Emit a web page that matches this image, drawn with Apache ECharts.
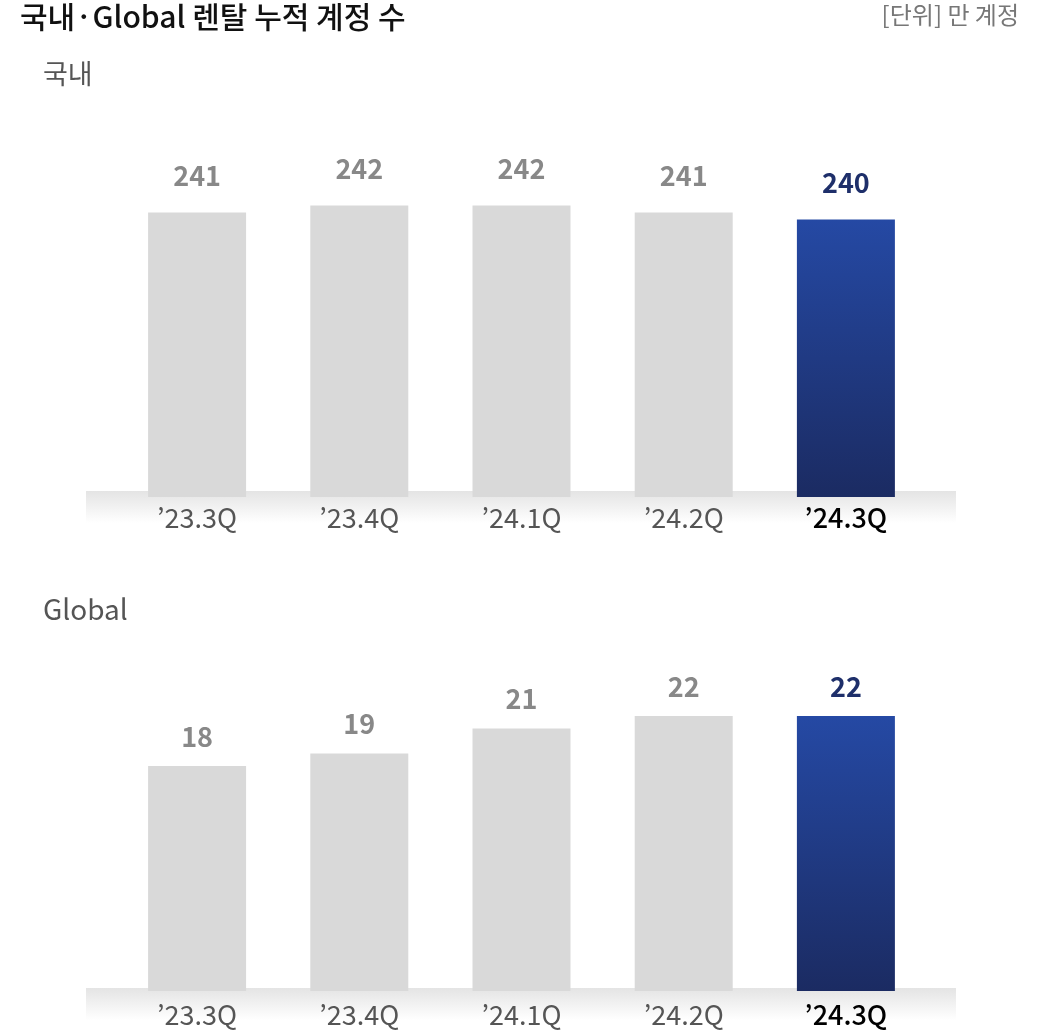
<!DOCTYPE html>
<html>
<head>
<meta charset="utf-8">
<script src="https://cdn.jsdelivr.net/npm/echarts@6/dist/echarts.min.js"></script>
<style>
  html, body { margin: 0; padding: 0; background: #fff; }
  #main { width: 1045px; height: 1035px; }
</style>
</head>
<body>
<div id="main"></div>
<script>
var quarters = ['’23.3Q', '’23.4Q', '’24.1Q', '’24.2Q', '’24.3Q'];
var domestic = [241, 242, 242, 241, 240];
var global = [18, 19, 21, 22, 22];

var FONT = '"Noto Sans CJK KR", "Noto Sans", sans-serif';
var last = quarters.length - 1;

// current quarter gets the blue gradient, others plain gray
function barData(values) {
  return values.map(function (v, i) {
    if (i !== last) return v;
    return {
      value: v,
      itemStyle: {
        color: new echarts.graphic.LinearGradient(0, 0, 0, 1, [
          {offset: 0, color: '#2549a4'},
          {offset: 1, color: '#1b2b62'}
        ])
      },
      label: {color: '#1e2f6a'}
    };
  });
}

function band(y) {
  return {
    type: 'rect', z: 0, silent: true,
    shape: {x: 86, y: y, width: 870, height: 32},
    style: {
      fill: new echarts.graphic.LinearGradient(0, 0, 0, 1, [
        {offset: 0, color: '#e4e4e4'},
        {offset: 1, color: '#ffffff'}
      ])
    }
  };
}

function xAxis(gridIndex, margin) {
  return {
    type: 'category',
    gridIndex: gridIndex,
    data: quarters,
    axisLine: {show: false},
    axisTick: {show: false},
    axisLabel: {
      interval: 0,
      fontFamily: FONT, fontSize: 27, color: '#555', margin: margin,
      formatter: function (v, i) { return i === last ? '{cur|' + v + '}' : v; },
      rich: {cur: {fontFamily: FONT, fontSize: 27, color: '#000', fontWeight: 500}}
    }
  };
}

function bars(idx, values, dist) {
  return {
    type: 'bar',
    xAxisIndex: idx, yAxisIndex: idx,
    data: barData(values),
    barWidth: 98,
    itemStyle: {color: '#d9d9d9'},
    label: {
      show: true, position: 'top', distance: dist,
      fontFamily: FONT, fontSize: 27, fontWeight: 'bold', color: '#888'
    }
  };
}

var myChart = echarts.init(document.getElementById('main'));
var option = {
  animation: false,
  title: [
    {text: '국내·Global 렌탈 누적 계정 수', left: 20, top: 2, padding: 0,
     textStyle: {fontFamily: FONT, fontSize: 30, fontWeight: 500, color: '#111'}},
    {text: '[단위] 만 계정', right: 26, top: 3, padding: 0,
     textStyle: {fontFamily: FONT, fontSize: 24, fontWeight: 'normal', color: '#777'}},
    {text: '국내', left: 43, top: 60, padding: 0,
     textStyle: {fontFamily: FONT, fontSize: 27, fontWeight: 'normal', color: '#555'}},
    {text: 'Global', left: 43, top: 595, padding: 0,
     textStyle: {fontFamily: FONT, fontSize: 28, fontWeight: 'normal', color: '#555'}}
  ],
  grid: [
    {left: 116, right: 118, top: 150, height: 347},
    {left: 116, right: 118, top: 616, height: 375}
  ],
  xAxis: [xAxis(0, 7), xAxis(1, 10)],
  yAxis: [
    {type: 'value', gridIndex: 0, min: 200, max: 250, show: false},
    {type: 'value', gridIndex: 1, min: 0, max: 30, show: false}
  ],
  graphic: [band(491), band(988)],
  series: [bars(0, domestic, 23), bars(1, global, 16)]
};
myChart.setOption(option);
</script>
</body>
</html>
